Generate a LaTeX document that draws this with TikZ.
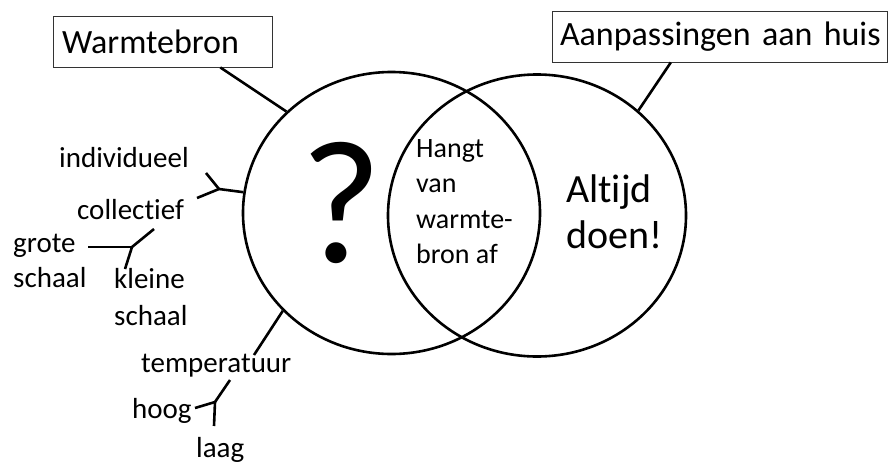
\documentclass[tikz,border=0pt]{standalone}
\usepackage{fontspec}
\setmainfont[Ligatures={NoCommon,NoRare,NoContextual}]{Carlito}
\usetikzlibrary{shapes.geometric,calc}
\begin{document}
\begin{tikzpicture}[x=1pt,y=-1pt,
  ring/.style={draw, ellipse, inner sep=0pt, line width=2.6pt},
  titlebox/.style={draw=black!80, line width=0.9pt, rectangle, inner ysep=0pt, align=left, font=\fontsize{34}{40}\selectfont},
  lbl/.style={anchor=base west, inner sep=0pt, font=\fontsize{29}{35}\selectfont},
  midtxt/.style={anchor=base west, inner sep=0pt, font=\fontsize{28}{34}\selectfont},
  bigtxt/.style={anchor=base west, inner sep=0pt, font=\fontsize{40}{46}\selectfont},
  twig/.style={line width=2.6pt}]
\useasboundingbox (0,0) rectangle (888,464);

% circles
\node[ring, minimum width=297pt, minimum height=282pt] (L) at (391.5,213) {};
\node[ring, minimum width=298pt, minimum height=282pt] (R) at (537,215.5) {};

% title boxes
\node[titlebox, minimum width=219pt, minimum height=51pt, inner xsep=9pt, text width=201pt] (warm) at (162.5,41.5) {\mbox{Warmtebron}};
\node[titlebox, minimum width=335pt, minimum height=51pt, inner xsep=8pt, text width=319pt] (aanp) at (719.5,36.5) {\mbox{Aanpassingen aan huis}};

% connectors from boxes
\coordinate (wfoot) at ($(warm.south west)!0.763!(warm.south east)$);
\coordinate (afoot) at ($(aanp.south west)!0.355!(aanp.south east)$);
\draw[twig] (wfoot) -- (L.136);
\draw[twig] (afoot) -- (R.46.5);

% texts inside circles
\node[anchor=base, inner sep=0pt, font=\fontsize{176}{176}\selectfont] (q) at (341.5,262) {?};
\node[midtxt] (h1) at (416,157) {Hangt};
\node[midtxt] (h2) at (416,192) {van};
\node[midtxt] (h3) at (416,228) {warmte-};
\node[midtxt] (h4) at (416,263) {bron af};
\node[bigtxt] (a1) at (566,202) {Altijd};
\node[bigtxt] (a2) at (566,248) {doen!};

% side labels
\node[lbl] (indiv) at (59,167) {individueel};
\node[lbl] (coll) at (77,219) {collectief};
\node[lbl] (grote) at (13,252) {grote};
\node[lbl] (grotes) at (13,287) {schaal};
\node[lbl] (klein) at (114,288) {kleine};
\node[lbl] (kleins) at (114,325) {schaal};
\node[lbl] (temp) at (141,372) {temperatuur};
\node[lbl] (hoog) at (132,418) {hoog};
\node[lbl] (laag) at (196,457) {laag};

% branch: individueel / collectief
\coordinate (j1) at (219,189);
\coordinate (j1a) at (206,173);
\coordinate (j1b) at (197,198);
\draw[twig] (L.172.7) -- (j1);
\draw[twig] (j1) -- (j1a);
\draw[twig] (j1) -- (j1b);

% branch: grote / kleine schaal
\coordinate (j2) at (132,247);
\coordinate (j2a) at (154,229);
\coordinate (j2b) at (88,247);
\coordinate (j2c) at (125,269);
\draw[twig] (j2a) -- (j2);
\draw[twig] (j2) -- (j2b);
\draw[twig] (j2) -- (j2c);

% branch: temperatuur
\coordinate (tend) at (254,355);
\draw[twig] (L.222.9) -- (tend);

% branch: hoog / laag
\coordinate (j3) at (215,402);
\coordinate (j3a) at (230,380);
\coordinate (j3b) at (195,408);
\coordinate (j3c) at (214,426);
\draw[twig] (j3a) -- (j3);
\draw[twig] (j3) -- (j3b);
\draw[twig] (j3) -- (j3c);
\end{tikzpicture}
\end{document}
